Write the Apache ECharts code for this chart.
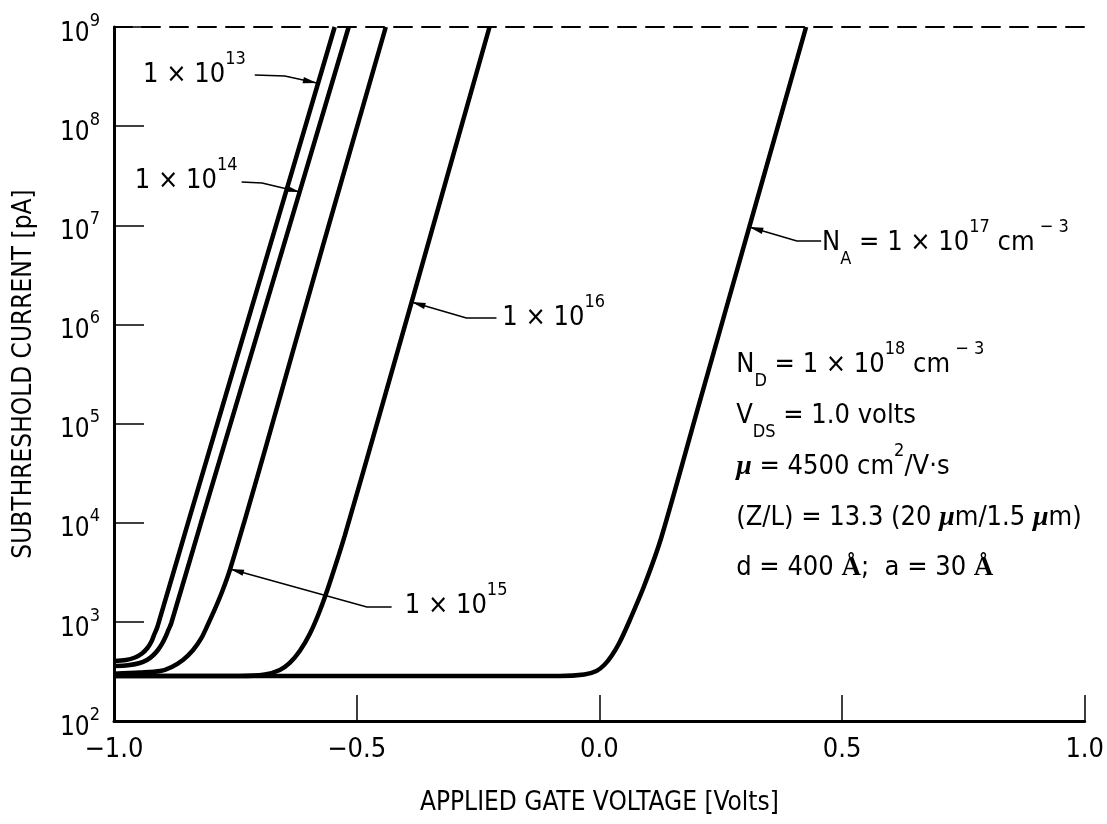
<!DOCTYPE html>
<html><head><meta charset="utf-8">
<script src="https://cdn.jsdelivr.net/npm/echarts@6/dist/echarts.min.js"></script>
<style>html,body{margin:0;padding:0;background:#fff}#c{width:1107px;height:824px}</style>
</head><body><div id="c"></div>
<script>
const FONT = "'DejaVu Sans Condensed','Liberation Sans Narrow','Liberation Sans',sans-serif";
const SERIF = "'Liberation Serif','DejaVu Serif',serif";

// Gate voltage [V] and subthreshold current [pA]
const vNA13 = [-1.0, -0.9753, -0.9568, -0.9424, -0.9311, -0.9228, -0.9167, -0.9107, -0.8477, -0.6893, -0.5453];
const iNA13 = [403, 412, 437, 480, 545, 634, 754, 887, 9930, 4.12e6, 1e9];

const vNA14 = [-1.0, -0.9712, -0.9486, -0.9321, -0.9198, -0.9095, -0.9012, -0.8940, -0.8879, -0.8819, -0.8210, -0.6790, -0.5165];
const iNA14 = [359, 365, 382, 412, 458, 520, 598, 703, 828, 974, 9930, 2.12e6, 1e9];

const vNA15 = [-1.0, -0.9465, -0.905, -0.881, -0.858, -0.837, -0.821, -0.807, -0.792, -0.7767, -0.7613, -0.7323, -0.689, -0.572, -0.440];
const iNA15 = [300, 308, 319, 351, 412, 520, 672, 929, 1349, 2047, 3336, 9930, 5.41e4, 5.64e6, 1e9];

const vNA16 = [-1.0, -0.741, -0.6893, -0.6584, -0.6379, -0.6173, -0.5967, -0.5761, -0.5556, -0.5247, -0.4465, -0.3868, -0.2263];
const iNA16 = [284, 284, 294, 327, 385, 508, 754, 1287, 2466, 7350, 1.58e5, 1.68e6, 1e9];

const vNA17 = [-1.0, -0.082, -0.031, -0.006, 0.010, 0.025, 0.041, 0.062, 0.093, 0.128, 0.206, 0.309, 0.426];
const iNA17 = [284, 284, 294, 319, 367, 453, 612, 1020, 2350, 7180, 1.61e5, 9.62e6, 1e9];

const xTickValues = [-1.0, -0.5, 0.0, 0.5, 1.0];
const yMinPA = 1e2, yMaxPA = 1e9;

const xTitle = 'APPLIED GATE VOLTAGE [Volts]';
const yTitle = 'SUBTHRESHOLD CURRENT [pA]';

// Annotation texts and their anchors (data coordinates)
const curveLabels = [
  {text: '{m|1 × 10}{sup|13}', at: [-0.940, 3.28e8], leader: [[-0.710, 3.28e8], [-0.648, 3.21e8], [-0.582, 2.72e8]]},
  {text: '{m|1 × 10}{sup|14}', at: [-0.957, 2.80e7], leader: [[-0.737, 2.73e7], [-0.695, 2.67e7], [-0.617, 2.17e7]]},
  {text: '{m|1 × 10}{sup|15}', at: [-0.401, 1445], leader: [[-0.428, 1413], [-0.479, 1413], [-0.761, 3410]]},
  {text: '{m|1 × 10}{sup|16}', at: [-0.200, 1.16e6], leader: [[-0.212, 1.16e6], [-0.274, 1.16e6], [-0.387, 1.68e6]]},
  {text: '{m|N}{sub|A}{m| = 1 × 10}{sup|17}{m| cm}{sup| − 3}', at: [0.459, 6.62e6], leader: [[0.457, 6.95e6], [0.407, 6.95e6], [0.309, 9.62e6]]}
];
const paramLines = [
  {text: '{m|N}{sub|D}{m| = 1 × 10}{sup|18}{m| cm}{sup| − 3}', at: [0.282, 3.90e5]},
  {text: '{m|V}{sub|DS}{m| = 1.0 volts}', at: [0.282, 1.19e5]},
  {text: '{mu|μ}{m| = 4500 cm}{sup|2}{m|/V·s}', at: [0.282, 3.65e4]},
  {text: '{m|(Z/L) = 13.3 (20 }{mu|μ}{m|m/1.5 }{mu|μ}{m|m)}', at: [0.282, 1.12e4]},
  {text: '{m|d = 400 }{ang|Å}{m|;  a = 30 }{ang|Å}', at: [0.282, 3490]}
];

const curves = [[vNA13, iNA13], [vNA14, iNA14], [vNA15, iNA15], [vNA16, iNA16], [vNA17, iNA17]];

const chart = echarts.init(document.getElementById('c'), null, {renderer: 'canvas'});

const series = curves.map(([v, i]) => ({
  type: 'line',
  data: v.map((x, k) => [x, i[k]]),
  showSymbol: false,
  smooth: 0.3,
  lineStyle: {color: '#000', width: 4.5},
  silent: true,
  clip: true,
  xAxisIndex: 0, yAxisIndex: 0
}));

chart.setOption({
  animation: false,
  backgroundColor: '#fff',
  grid: {left: 114, right: 21, top: 27, bottom: 103},
  xAxis: [{
    type: 'value', min: xTickValues[0], max: xTickValues[xTickValues.length - 1], interval: 0.5,
    axisLine: {show: true, onZero: false, lineStyle: {color: '#000', width: 3}},
    axisTick: {show: true, inside: true, length: 26, lineStyle: {color: '#000', width: 1.5}},
    axisLabel: {
      margin: 15, color: '#000', fontFamily: FONT, fontSize: 27,
      formatter: v => (v < 0 ? '\u2212' : '') + Math.abs(v).toFixed(1)
    },
    splitLine: {show: false},
    name: xTitle, nameLocation: 'middle', nameGap: 69,
    nameTextStyle: {color: '#000', fontFamily: FONT, fontSize: 26}
  }, {
    type: 'value', min: xTickValues[0], max: xTickValues[xTickValues.length - 1], position: 'top',
    axisLine: {show: true, onZero: false, lineStyle: {color: '#000', width: 2, type: [18, 10]}},
    axisTick: {show: false}, axisLabel: {show: false}, splitLine: {show: false}
  }],
  yAxis: {
    type: 'log', logBase: 10, min: yMinPA, max: yMaxPA, splitNumber: 7,
    axisLine: {show: true, onZero: false, lineStyle: {color: '#000', width: 3}},
    axisTick: {show: true, inside: true, length: 30, lineStyle: {color: '#000', width: 1.5}},
    splitLine: {show: false},
    axisLabel: {
      margin: 14, showMinLabel: true, showMaxLabel: true,
      padding: [14, 0, 0, 0],
      formatter: v => '{b|10}{s|' + Math.round(Math.log10(v)) + '}',
      rich: {
        b: {fontFamily: FONT, fontSize: 26, lineHeight: 44, color: '#000'},
        s: {fontFamily: FONT, fontSize: 18, lineHeight: 21, verticalAlign: 'top', color: '#000'}
      }
    },
    name: yTitle, nameLocation: 'middle', nameGap: 77, nameRotate: 90,
    nameTextStyle: {color: '#000', fontFamily: FONT, fontSize: 26}
  },
  series: series
});

const annRich = {
  m: {fontSize: 27, fontFamily: FONT, lineHeight: 50, fill: '#000'},
  sup: {fontSize: 18, fontFamily: FONT, lineHeight: 20, verticalAlign: 'top', fill: '#000'},
  sub: {fontSize: 18, fontFamily: FONT, lineHeight: 34, verticalAlign: 'bottom', fill: '#000'},
  mu: {fontSize: 28, fontFamily: SERIF, fontStyle: 'italic', fontWeight: 'bold', lineHeight: 50, fill: '#000'},
  ang: {fontSize: 27, fontFamily: SERIF, fontWeight: 'bold', lineHeight: 50, fill: '#000'}
};

function toPx(p) { return chart.convertToPixel({xAxisIndex: 0, yAxisIndex: 0}, p); }

const graphics = [];
function addText(item) {
  const p = toPx(item.at);
  graphics.push({type: 'text', x: p[0], y: p[1], z: 20,
    style: {text: item.text, rich: annRich, align: 'left', verticalAlign: 'middle', fill: '#000', fontFamily: FONT, fontSize: 27}});
}
curveLabels.forEach(item => {
  addText(item);
  const pts = item.leader.map(toPx);
  graphics.push({type: 'polyline', z: 20, shape: {points: pts}, style: {stroke: '#000', lineWidth: 1.6, fill: null}});
  const tip = pts[pts.length - 1], prev = pts[pts.length - 2];
  const dx = tip[0] - prev[0], dy = tip[1] - prev[1];
  const len = Math.hypot(dx, dy), ux = dx / len, uy = dy / len;
  const L = 14, W = 3.2;
  const bx = tip[0] - ux * L, by = tip[1] - uy * L;
  graphics.push({type: 'polygon', z: 21, shape: {points: [tip, [bx - uy * W, by + ux * W], [bx + uy * W, by - ux * W]]},
    style: {fill: '#000', stroke: null}});
});
paramLines.forEach(addText);

chart.setOption({graphic: graphics});
</script>
</body></html>
